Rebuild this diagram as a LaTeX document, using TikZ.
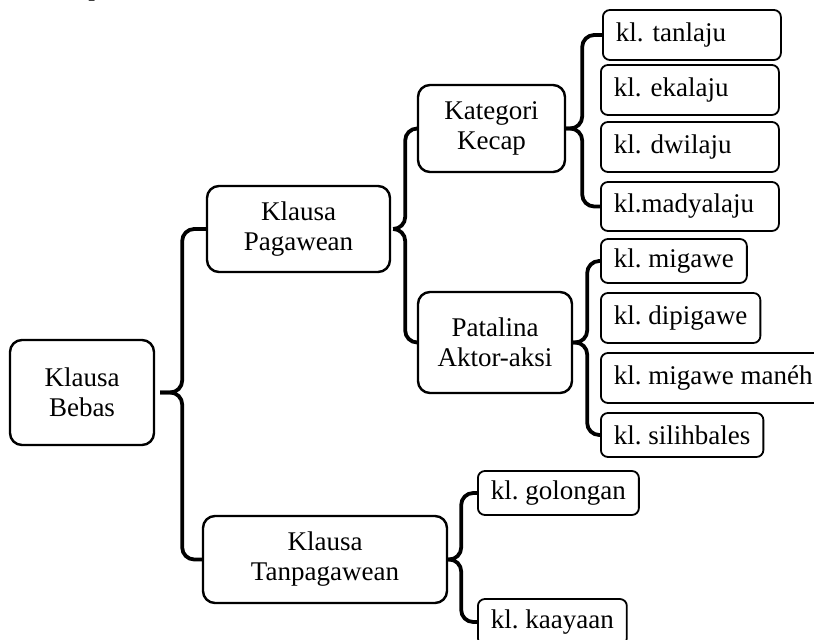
\documentclass[tikz,border=0pt]{standalone}
\usepackage{fontspec}
\setmainfont{Liberation Serif}
\usepackage{tikz}
\usetikzlibrary{positioning,calc}

\begin{document}
\begin{tikzpicture}[x=0.5pt, y=-0.5pt,
    box/.style={rectangle, draw, rounded corners=6pt, line width=1.2pt, align=center, inner sep=0pt, font=\fontsize{13.5}{15}\selectfont\frenchspacing},
    leaf/.style={rectangle, draw, rounded corners=3.5pt, line width=0.9pt, anchor=west, align=left, inner xsep=6.5pt, inner ysep=0pt, minimum height=25pt, font=\fontsize{13.5}{15}\selectfont\frenchspacing},
    brace/.style={line width=1.9pt, rounded corners=6pt},
]
    \useasboundingbox (0,0) rectangle (814,640);
    \clip (0,0) rectangle (814,640);
    \node[anchor=base west, inner sep=0pt, font=\fontsize{13.5}{15}\selectfont] (pfrag) at (88,-4) {p};

    % main boxes
    \node[box, minimum width=72pt, minimum height=52.5pt] (kb) at (82,392.5) {Klausa\\Bebas};
    \node[box, minimum width=91.5pt, minimum height=43pt] (kp) at (298.5,229) {Klausa\\Pagawean};
    \node[box, minimum width=122pt, minimum height=43.5pt] (kt) at (325,559.5) {Klausa\\Tanpagawean};
    \node[box, minimum width=73.5pt, minimum height=43.5pt] (kk) at (491.5,128.5) {Kategori\\Kecap};
    \node[box, minimum width=77pt, minimum height=50.5pt] (pa) at (495,342.5) {Patalina\\Aktor-aksi};

    % leaves
    \node[leaf, text width=76pt] (tl) at (602,35) {kl. tanlaju};
    \node[leaf, text width=76pt] (el) at (600,90) {kl. ekalaju};
    \node[leaf, text width=76pt] (dl) at (600,147) {kl. dwilaju};
    \node[leaf, text width=76pt, minimum height=24.5pt] (ml) at (600,206.5) {kl.madyalaju};
    \node[leaf, minimum height=22pt] (mg) at (600,261) {kl. migawe};
    \node[leaf] (dp) at (600,318) {kl. dipigawe};
    \node[leaf] (mm) at (600,378) {kl. migawe manéh};
    \node[leaf, minimum height=22pt] (sb) at (600,435) {kl. silihbales};
    \node[leaf, minimum height=22pt] (gl) at (477,493) {kl. golongan};
    \node[leaf, minimum height=23pt] (ky) at (477,622) {kl. kaayaan};

    % braces
    \draw[brace] (kp.west) -| ($(kb.east)+(27,0)$) -- ($(kb.east)+(5,0)$);
    \draw[brace] ($(kb.east)+(5,0)$) -- ($(kb.east)+(27,0)$) |- (kt.west);

    \draw[brace] (kk.west) -| ($(kp.east)+(14,0)$) -- ($(kp.east)+(2,0)$);
    \draw[brace] ($(kp.east)+(2,0)$) -- ($(kp.east)+(14,0)$) |- (pa.west);

    \draw[brace] (tl.west) -| ($(kk.east)+(16,0)$) -- (kk.east);
    \draw[brace] (kk.east) -- ($(kk.east)+(16,0)$) |- (ml.west);

    \draw[brace] (mg.west) -| ($(pa.east)+(14,0)$) -- (pa.east);
    \draw[brace] (pa.east) -- ($(pa.east)+(14,0)$) |- (sb.west);

    \draw[brace] (gl.west) -| ($(kt.east)+(13,0)$) -- (kt.east);
    \draw[brace] (kt.east) -- ($(kt.east)+(13,0)$) |- (ky.west);
\end{tikzpicture}
\end{document}
